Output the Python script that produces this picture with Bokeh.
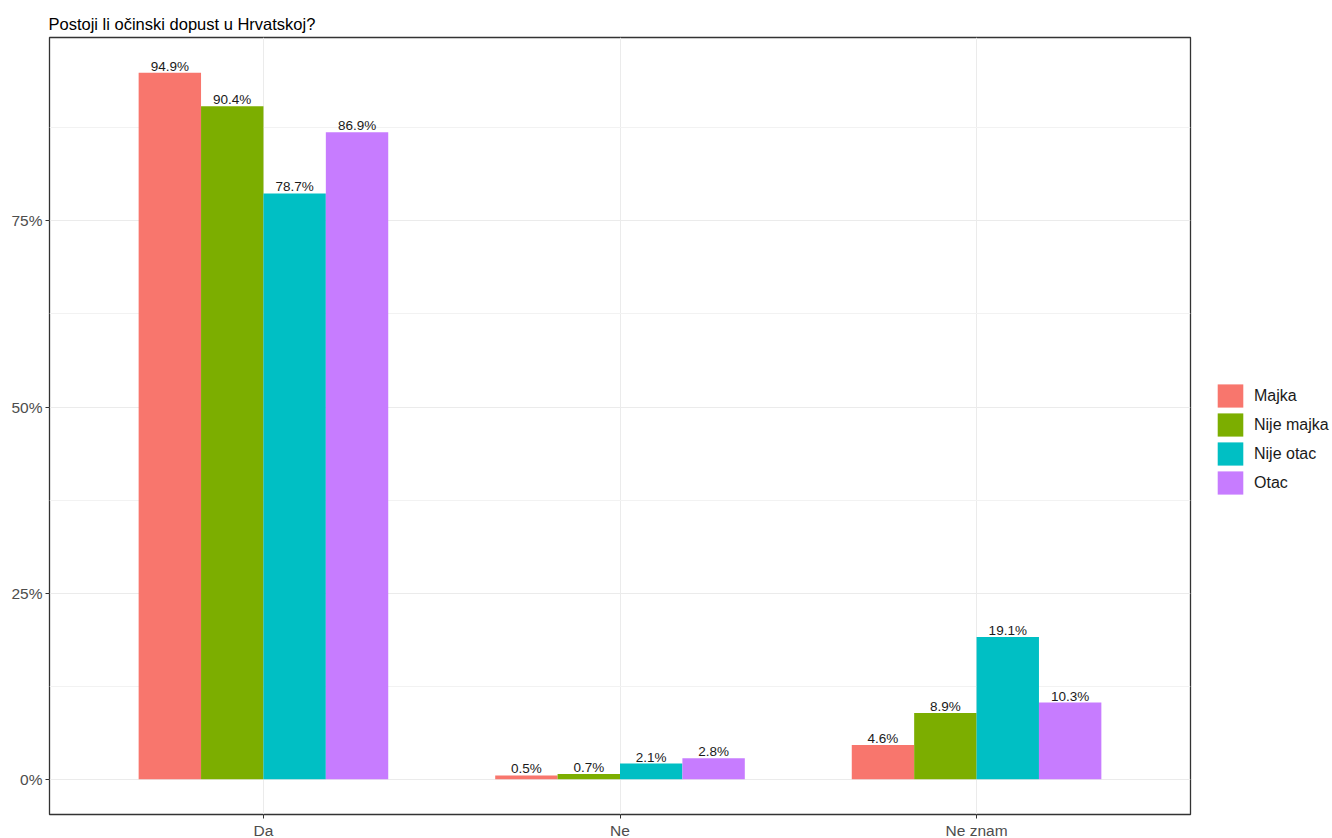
from bokeh.plotting import figure
from bokeh.models import (Range1d, FixedTicker, ColumnDataSource, Legend, LegendItem)
from bokeh.core.properties import value
from bokeh.embed import file_html
from bokeh.resources import INLINE

categories = ["Da", "Ne", "Ne znam"]
groups = ["Majka", "Nije majka", "Nije otac", "Otac"]
majka = [94.9, 0.5, 4.6]
nije_majka = [90.4, 0.7, 8.9]
nije_otac = [78.7, 2.1, 19.1]
otac = [86.9, 2.8, 10.3]
series = [majka, nije_majka, nije_otac, otac]
colors = ["#F8766D", "#7CAE00", "#00BFC4", "#C77CFF"]
y_ticks = [0, 25, 50, 75]
y_tick_labels = ["0%", "25%", "50%", "75%"]

FONT = "Liberation Sans"
ymax = max(max(s) for s in series)

p = figure(frame_width=1141, frame_height=777, output_backend="svg", toolbar_location=None,
           x_range=Range1d(0.4, 3.6), y_range=Range1d(-0.05 * ymax, ymax * 1.05),
           min_border_left=49, min_border_right=0, min_border_top=37, min_border_bottom=0,
           title="Postoji li očinski dopust u Hrvatskoj?")

p.title.text_font = FONT
p.title.text_font_size = "16.5px"
p.title.text_font_style = "normal"
p.title.text_color = "#000000"
p.title.align = "left"
p.title.offset = -1
p.title.standoff = 10

p.outline_line_color = "#333333"
p.outline_line_width = 1.3
p.background_fill_color = "white"
p.border_fill_color = "white"

dodge_width = 0.7
bw = dodge_width / len(groups)
items = []
for i, (g, vals, c) in enumerate(zip(groups, series, colors)):
    xs = [k + 1 - dodge_width / 2 + bw * (i + 0.5) for k in range(len(categories))]
    src = ColumnDataSource(dict(x=xs, top=vals, lab=[f"{v:.1f}%" for v in vals]))
    r = p.vbar(x="x", top="top", bottom=0, width=bw, fill_color=c, line_color=None, source=src)
    p.text(x="x", y="top", text="lab", source=src, text_align="center", text_baseline="bottom",
           text_font=value(FONT), text_font_size="13.5px", text_color="#1a1a1a", y_offset=1)
    items.append(LegendItem(label=g, renderers=[r]))

legend = Legend(items=items, location=(24, 317), border_line_color=None,
                glyph_width=32, glyph_height=29, spacing=0, padding=0, margin=0,
                label_text_font=FONT, label_text_font_size="16px", label_text_color="#1a1a1a",
                label_standoff=8, background_fill_alpha=0)
p.add_layout(legend, "right")

# x axis
p.xaxis.ticker = FixedTicker(ticks=[1, 2, 3])
p.xaxis.major_label_overrides = {i + 1: c for i, c in enumerate(categories)}
# y axis
p.yaxis.ticker = FixedTicker(ticks=y_ticks)
p.yaxis.major_label_overrides = {t: l for t, l in zip(y_ticks, y_tick_labels)}

for ax in (p.xaxis[0], p.yaxis[0]):
    ax.axis_line_color = None
    ax.major_tick_line_color = "#333333"
    ax.major_tick_out = 4
    ax.major_tick_in = 0
    ax.minor_tick_line_color = None
    ax.major_label_text_font = FONT
    ax.major_label_text_font_size = "15.5px"
    ax.major_label_text_color = "#4D4D4D"
    ax.major_label_standoff = 3

p.xgrid.ticker = FixedTicker(ticks=[1, 2, 3])
p.xgrid.grid_line_color = "#EBEBEB"
p.ygrid.ticker = FixedTicker(ticks=y_ticks, minor_ticks=[12.5, 37.5, 62.5, 87.5])
p.ygrid.grid_line_color = "#EBEBEB"
p.ygrid.minor_grid_line_color = "#F2F2F2"

open("out.html", "w").write(file_html(p, INLINE))
